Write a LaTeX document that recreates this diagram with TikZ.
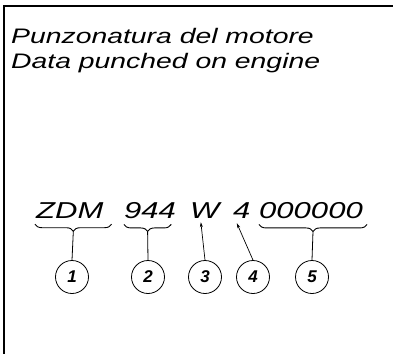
\documentclass[tikz,border=0pt]{standalone}
\usepackage{xcolor}
\usepackage{fontspec}
\setmainfont{Liberation Sans}
\newfontfamily\anchafont[FakeStretch=1.35]{Liberation Sans}
\usetikzlibrary{positioning,calc,arrows.meta,decorations.pathreplacing}

\tikzset{
  titulo/.style={anchor=base west, inner sep=0pt, align=left,
    font=\anchafont\itshape\fontsize{21}{25}\selectfont},
  codigo/.style={anchor=base west, inner sep=0pt,
    font=\anchafont\itshape\fontsize{23}{27}\selectfont},
  llave/.style={decorate, decoration={brace, mirror, amplitude=7pt}, line width=0.9pt},
  numero/.style={circle, draw, line width=0.8pt, minimum size=33pt, inner sep=0pt,
    font=\bfseries\itshape\fontsize{17}{19}\selectfont},
  linea/.style={line width=0.8pt},
  flecha/.style={line width=0.7pt, -{Stealth[length=5pt,width=3pt]}}
}

\begin{document}
\begin{tikzpicture}[x=1pt,y=-1pt]
        \useasboundingbox (0,0) rectangle (397,354);

        % Paso 1: Marco abierto (izquierda y arriba)
        \draw[line width=1.1pt] (4,354) -- (4,6) -- (393,6);

        % Paso 2: Titulo en dos lineas
        \node[titulo] (titulo) at (11,68) {Punzonatura del motore\\Data punched on engine};

        % Paso 3: Partes del numero de motor
        \node[codigo] (zdm)   at (36,218)  {ZDM};
        \node[codigo] (n944)  at (124,218) {944};
        \node[codigo] (w)     at (190,218) {W};
        \node[codigo] (cuatro) at (233,218) {4};
        \node[codigo] (ceros) at (259,218) {000000};

        % Paso 4: Circulos numerados
        \node[numero] (c1) at (72,277)  {1};
        \node[numero] (c2) at (148,277) {2};
        \node[numero] (c3) at (205,277) {3};
        \node[numero] (c4) at (253,277) {4};
        \node[numero] (c5) at (312,277) {5};

        % Paso 5: Llaves bajo ZDM, 944 y 000000
        \draw[llave] ([xshift=-1pt,yshift=-6pt]zdm.south west) -- ([xshift=8pt,yshift=-6pt]zdm.south east)
            coordinate[midway, yshift=-7pt] (p1);
        \draw[llave] ([yshift=-6pt]n944.south west) -- ([xshift=-5pt,yshift=-6pt]n944.south east)
            coordinate[midway, yshift=-7pt] (p2);
        \draw[llave] ([yshift=-6pt]ceros.south west) -- ([xshift=4pt,yshift=-6pt]ceros.south east)
            coordinate[midway, yshift=-7pt] (p5);

        % Paso 6: Trazos de la llave al circulo
        \draw[linea] (p1) -- (c1.north);
        \draw[linea] (p2) -- (c2.north);
        \draw[linea] (p5) -- (c5.north);

        % Paso 7: Flechas hacia W y 4
        \draw[flecha] (c3.north) -- ([xshift=-4pt,yshift=-4pt]w.south);
        \draw[flecha] (c4.north) -- ([xshift=-5pt,yshift=-5pt]cuatro.south);
    \end{tikzpicture}
\end{document}
